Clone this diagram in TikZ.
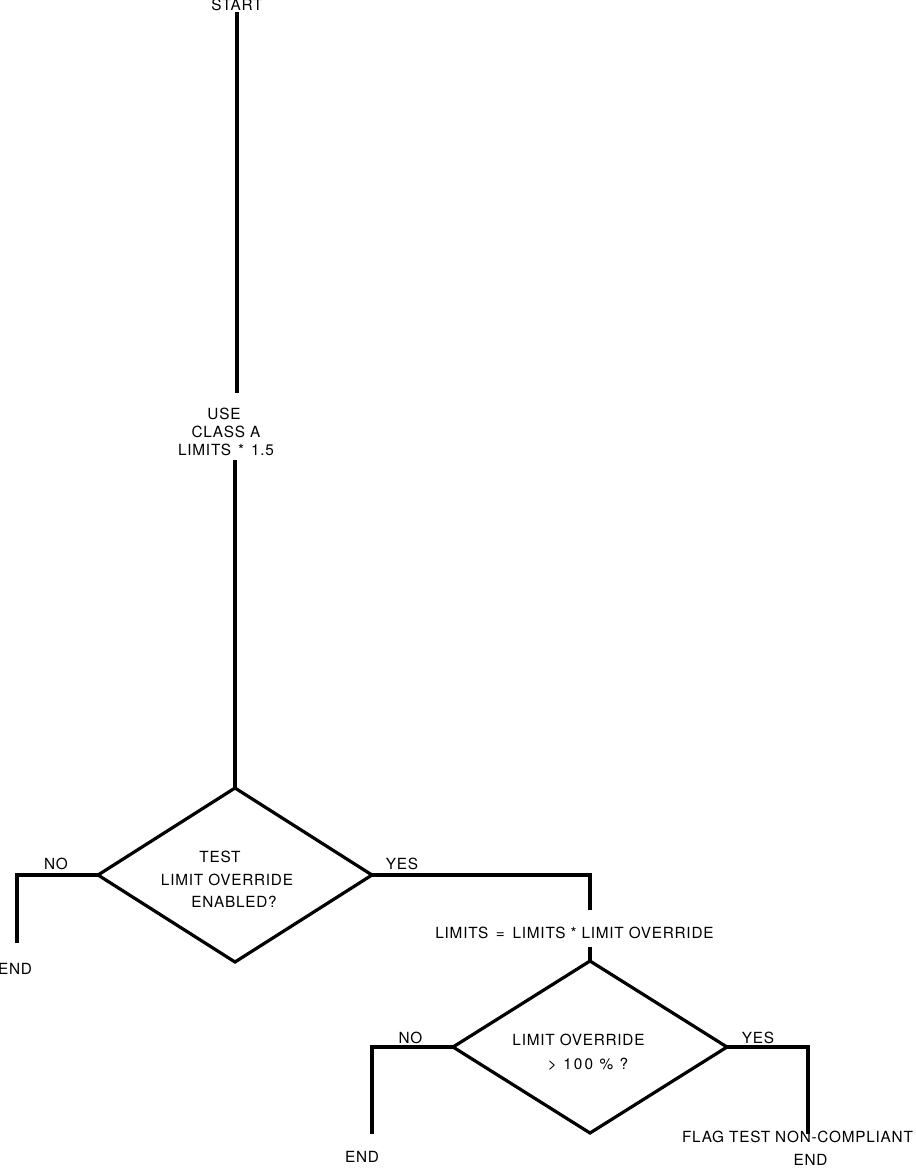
\documentclass[tikz,border=0pt]{standalone}
\usepackage{fontspec}
\newfontfamily\diafont[LetterSpace=5]{TeX Gyre Heros}
\newfontfamily\widefont[LetterSpace=14]{TeX Gyre Heros}
\usetikzlibrary{shapes.geometric}
\begin{document}
\begin{tikzpicture}[x=0.75pt,y=-0.75pt,
  txt/.style={font=\diafont\fontsize{11.5}{13}\selectfont, inner sep=0pt, anchor=base},
  widetxt/.style={txt, font=\widefont\fontsize{11.5}{13}\selectfont},
  wire/.style={line width=2.4pt, line join=miter},
  decision/.style={shape=diamond, draw, line width=2.4pt, minimum width=205.5pt, minimum height=130.5pt, inner sep=0pt, outer sep=0pt}]
\useasboundingbox (0,0) rectangle (915,1174);
% start and first process
\node[txt] (start) at (237,11) {START};
\coordinate (a1) at (237,12);
\coordinate (a2) at (237,393);
\draw[wire] (a1) -- (a2);
\node[txt] (use1) at (224,419) {USE};
\node[txt] (use2) at (226,437) {CLASS A};
\node[txt] (use3) at (226,455) {LIMITS\hspace{1.5pt} * \hspace{1.5pt}1.5};
% decision 1
\node[decision] (d1) at (235,875) {};
\coordinate (b1) at (235,460);
\draw[wire] (b1) -- (d1.north);
\node[txt] (t1) at (220,862) {TEST};
\node[txt] (t2) at (227,885) {LIMIT OVERRIDE};
\node[txt] (t3) at (234,907) {ENABLED?};
% NO branch 1
\coordinate (e1) at (17,943);
\draw[wire] (d1.west) -| (e1);
\node[txt] (no1) at (56,869) {NO};
\node[txt] (end1) at (15,974) {END};
% YES branch 1
\coordinate (c1) at (590,910);
\draw[wire] (d1.east) -| (c1);
\node[txt] (yes1) at (402,869) {YES};
\node[txt] (lim) at (574.5,938) {LIMITS\hspace{2pt} = \hspace{2pt}LIMITS * LIMIT OVERRIDE};
% decision 2
\node[decision, minimum height=129pt] (d2) at (590,1047) {};
\coordinate (c2) at (590,947);
\draw[wire] (c2) -- (d2.north);
\node[txt] (u1) at (578.5,1045) {LIMIT OVERRIDE};
\node[widetxt] (u2) at (588,1069) {> 100 \% ?};
% NO branch 2
\coordinate (e2) at (372,1134);
\draw[wire] (d2.west) -| (e2);
\node[txt] (no2) at (410.5,1043) {NO};
\node[txt] (end2) at (362,1162) {END};
% YES branch 2
\coordinate (e3) at (808,1134);
\draw[wire] (d2.east) -| (e3);
\node[txt] (yes2) at (758,1043) {YES};
\node[txt] (flag) at (797.5,1142) {FLAG TEST NON-COMPLIANT};
\node[txt] (end3) at (810.5,1165) {END};
\end{tikzpicture}
\end{document}
